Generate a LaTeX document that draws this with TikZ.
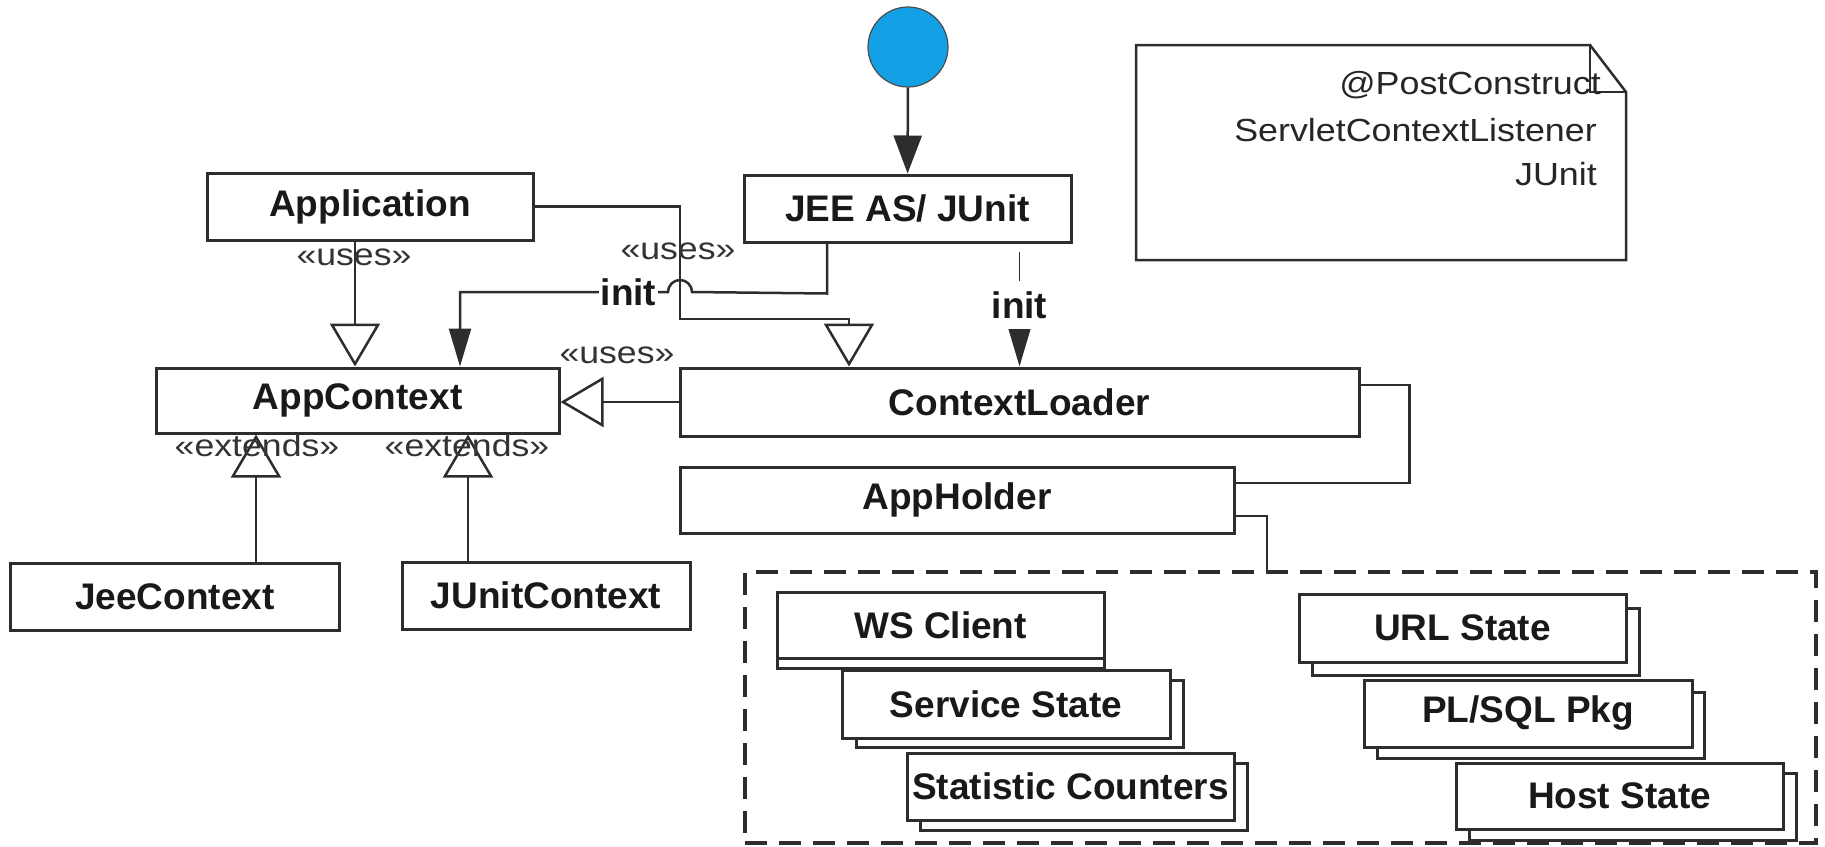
\documentclass[tikz,border=0pt]{standalone}
\usepackage{fontspec}
\setmainfont{Liberation Sans}
\newfontfamily\stfont{Liberation Sans}[FakeStretch=1.15]
\newfontfamily\ntfont{Liberation Sans}[FakeStretch=1.12]
\usetikzlibrary{arrows.meta,calc}
\definecolor{lineclr}{RGB}{45,45,45}
\definecolor{startblue}{RGB}{20,160,228}
\tikzset{
  box/.style={draw=lineclr, line width=3pt, fill=white, inner sep=0pt,
    font=\fontsize{37}{40}\selectfont\bfseries, text=black!90},
  conn/.style={draw=lineclr, line width=2.5pt},
  filledarr/.style={conn, -{Triangle[length=38pt,width=22pt]}},
  bigarr/.style={conn, -{Triangle[length=38pt,width=28pt]}},
  hollowarr/.style={conn, -{Triangle[length=43pt,width=50pt,fill=white]}},
  stereo/.style={font=\stfont\fontsize{31}{34}\selectfont, text=black!80, inner sep=0pt},
  lbl/.style={font=\fontsize{37}{40}\selectfont\bfseries, fill=white, inner xsep=2pt, inner ysep=3pt, text=black!90},
  notetxt/.style={font=\ntfont\fontsize{32}{36}\selectfont, text=black!85, inner sep=0pt, anchor=base east},
  container/.style={draw=lineclr, line width=3.5pt, dash pattern=on 22pt off 12pt, inner sep=0pt},
}
\begin{document}
\begin{tikzpicture}[x=1pt,y=-1pt]
\useasboundingbox (0,0) rectangle (1825,846);

% main nodes
\node[circle, draw=black!70, line width=1.2pt, fill=startblue, minimum size=80pt, inner sep=0pt] (start) at (908,47) {};
\node[box, minimum width=327pt, minimum height=67pt] (jee) at (907.5,208.5) {JEE AS/ JUnit};
\node[box, minimum width=326pt, minimum height=67pt] (app) at (370,206.5) {Application};
\node[box, minimum width=403pt, minimum height=65pt] (ctx) at (357.5,400.5) {AppContext};
\node[box, minimum width=679pt, minimum height=68pt] (loader) at (1019.5,402) {ContextLoader};
\node[box, minimum width=554pt, minimum height=66pt] (holder) at (957,500) {AppHolder};
\node[box, minimum width=329pt, minimum height=67pt] (jeectx) at (175,596.5) {JeeContext};
\node[box, minimum width=288pt, minimum height=67pt] (junitctx) at (546,595.5) {JUnitContext};

% dashed container
\node[container, minimum width=1071pt, minimum height=271pt] (cont) at (1280.5,707.5) {};

% stacked boxes
\node[box, minimum width=327pt, minimum height=66pt] (wsb) at (940.5,635) {};
\node[box, minimum width=327pt, minimum height=66pt] (ws) at (940.5,625) {WS Client};
\node[box, minimum width=327pt, minimum height=67pt] (ssb) at (1019.5,713.5) {};
\node[box, minimum width=328pt, minimum height=68pt] (ss) at (1006,704) {Service State};
\node[box, minimum width=327pt, minimum height=67pt] (scb) at (1083.5,796.5) {};
\node[box, minimum width=327pt, minimum height=67pt] (sc) at (1070.5,786.5) {Statistic Counters};
\node[box, minimum width=327pt, minimum height=67pt] (urlb) at (1475.5,641.5) {};
\node[box, minimum width=327pt, minimum height=68pt] (url) at (1462.5,628) {URL State};
\node[box, minimum width=327pt, minimum height=66pt] (plb) at (1540.5,725) {};
\node[box, minimum width=328pt, minimum height=67pt] (pl) at (1528,713.5) {PL/SQL Pkg};
\node[box, minimum width=327pt, minimum height=67pt] (hsb) at (1632.5,806.5) {};
\node[box, minimum width=327pt, minimum height=66pt] (hs) at (1619.5,796) {Host State};

% note
\draw[draw=lineclr, line width=2.5pt, fill=white] (1136,45) -- (1590,45) -- (1626,92) -- (1626,260) -- (1136,260) -- cycle;
\draw[draw=lineclr, line width=2.2pt] (1590,45) -- (1590,92) -- (1626,92);
\node[notetxt] (n1) at (1601,94) {@PostConstruct};
\node[notetxt] (n2) at (1597,141) {ServletContextListener};
\node[notetxt] (n3) at (1597,185) {JUnit};

% connectors
\draw[bigarr] (start) -- (jee);
\draw[hollowarr] ([xshift=-15pt]app.south) -- ([xshift=-15pt]app.south |- ctx.north);
\draw[hollowarr] (app.east) -- (680,206.5) -- (680,319) -- (849,319) -- (849,0 |- loader.north);
\draw[filledarr] ([xshift=-80.5pt]jee.south) -- ++(0,50) -- (692,292) arc (0:-180:12)
   -- node[lbl, pos=0.19] (init1) {init} (460,292) -- (460,0 |- ctx.north);
\draw[hollowarr] (loader.west) -- (loader.west -| ctx.east);
\draw[filledarr, line width=1.8pt, shorten <=8pt] (jee.south -| loader.north) -- node[lbl, inner ysep=10pt] (init2) {init} (loader.north);
\draw[conn] ([yshift=17pt]loader.east) -- ++(49,0) |- ([yshift=17pt]holder.east);
\draw[conn] ([yshift=-16pt]holder.east) -| ([xshift=-13.5pt]cont.north);
\draw[hollowarr] ([xshift=81pt]jeectx.north) -- ([xshift=81pt]jeectx.north |- ctx.south);
\draw[hollowarr] ([xshift=-78pt]junitctx.north) -- ([xshift=-78pt]junitctx.north |- ctx.south);

% stereotype labels
\node[stereo] (u1) at (354,257) {«uses»};
\node[stereo] (u2) at (678,251) {«uses»};
\node[stereo] (u3) at (617,355) {«uses»};
\node[stereo] (e1) at (257,445) {«extends»};
\node[stereo] (e2) at (467,445) {«extends»};
\end{tikzpicture}
\end{document}
